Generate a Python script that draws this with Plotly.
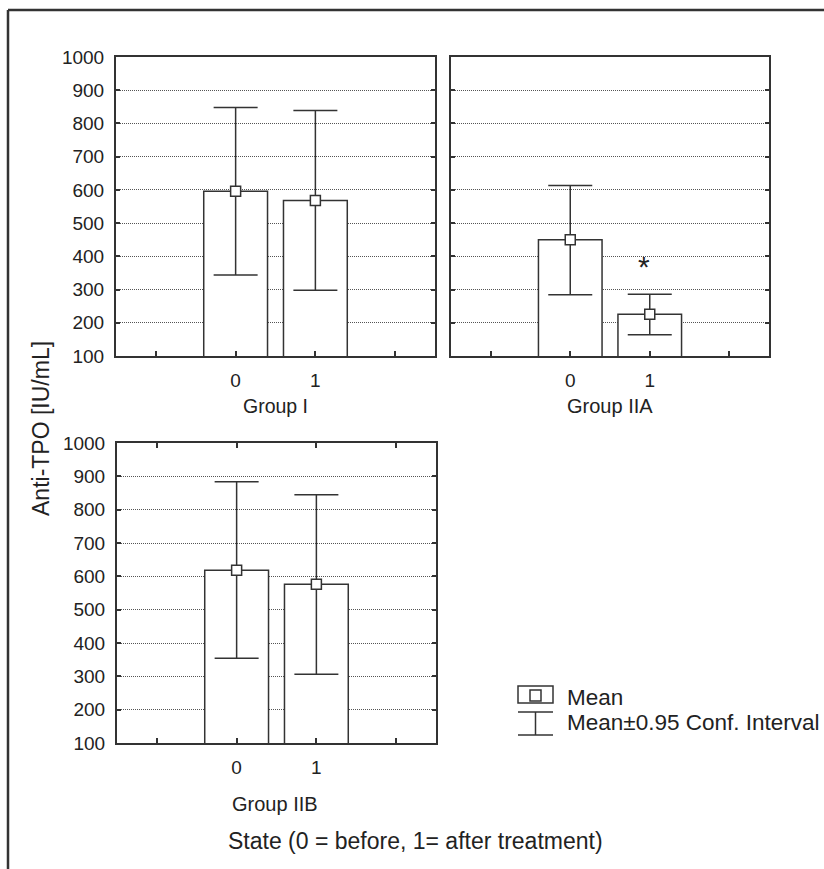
import plotly.graph_objects as go

# ---- data ----
states = [0, 1]
state_labels = ["0", "1"]
group_names = ["Group I", "Group IIA", "Group IIB"]
mean_group_i = [596, 568]
ci_low_group_i = [344, 298]
ci_high_group_i = [848, 839]
mean_group_iia = [450, 226]
ci_low_group_iia = [284, 164]
ci_high_group_iia = [613, 286]
mean_group_iib = [618, 576]
ci_low_group_iib = [354, 306]
ci_high_group_iib = [884, 845]
y_ticks = [100, 200, 300, 400, 500, 600, 700, 800, 900, 1000]

W, H = 824, 869
FONT = "Liberation Sans, Arial, sans-serif"
DARK = "#333333"
TXT = "#222222"

def px_x(p):
    return p / W

def px_y(p):
    return 1 - p / H

fig = go.Figure()

groups = [
    (mean_group_i, ci_low_group_i, ci_high_group_i, "x", "y"),
    (mean_group_iia, ci_low_group_iia, ci_high_group_iia, "x2", "y2"),
    (mean_group_iib, ci_low_group_iib, ci_high_group_iib, "x3", "y3"),
]

for means, lo, hi, xa, ya in groups:
    fig.add_trace(go.Bar(
        x=states, y=means, width=0.8, xaxis=xa, yaxis=ya,
        marker=dict(color="white", line=dict(color=DARK, width=1.5)),
        showlegend=False, hoverinfo="skip",
    ))
    fig.add_trace(go.Scatter(
        x=states, y=means, xaxis=xa, yaxis=ya, mode="markers",
        marker=dict(symbol="square", size=10, color="white",
                    line=dict(color=DARK, width=1.5)),
        error_y=dict(type="data", symmetric=False,
                     array=[h - m for h, m in zip(hi, means)],
                     arrayminus=[m - l for m, l in zip(means, lo)],
                     color=DARK, thickness=1.5, width=22),
        showlegend=False,
    ))

domains = {
    "1": ([px_x(116), px_x(435)], [px_y(356), px_y(57)]),
    "2": ([px_x(451), px_x(769)], [px_y(356), px_y(57)]),
    "3": ([px_x(117), px_x(436)], [px_y(743), px_y(443)]),
}

for key, (dx, dy) in domains.items():
    xname = "xaxis" if key == "1" else "xaxis" + key
    yname = "yaxis" if key == "1" else "yaxis" + key
    anchor_x = "y" if key == "1" else "y" + key
    anchor_y = "x" if key == "1" else "x" + key
    fig.layout[xname] = dict(
        domain=dx, anchor=anchor_x, range=[-1.5, 2.5], automargin=False,
        tickvals=[-1, 0, 1, 2], ticktext=[""] + state_labels + [""],
        ticks="inside", ticklen=5, tickwidth=1.5, tickcolor=DARK,
        showline=True, linecolor=DARK, linewidth=2,
        mirror="ticks" if key == "3" else True,
        showgrid=False, zeroline=False, fixedrange=True,
        tickfont=dict(family=FONT, size=19, color=TXT),
        ticklabelstandoff=6,
    )
    fig.layout[yname] = dict(
        domain=dy, anchor=anchor_y, range=[100, 1000], automargin=False,
        tickvals=y_ticks,
        ticks="inside", ticklen=4, tickwidth=1.5, tickcolor=DARK,
        showline=True, linecolor=DARK, linewidth=2, mirror="ticks",
        showgrid=True, gridcolor="#555555", gridwidth=1, griddash="1px,1px",
        zeroline=False, fixedrange=True,
        showticklabels=(key != "2"),
        tickfont=dict(family=FONT, size=19, color=TXT),
        ticklabelstandoff=6,
    )

def note(text, x, y, size, **kw):
    d = dict(text=text, x=x, y=y, xref="paper", yref="paper", showarrow=False,
             xanchor="center", yanchor="middle",
             font=dict(family=FONT, size=size, color=TXT))
    d.update(kw)
    return d

annotations = [
    note(group_names[0], px_x(275), px_y(406), 19.5),
    note(group_names[1], px_x(610), px_y(406), 20),
    note(group_names[2], px_x(275), px_y(804), 20),
    note("State (0 = before, 1= after treatment)", px_x(415), px_y(841), 23),
    note("Anti-TPO [IU/mL]", px_x(41), px_y(429), 23, textangle=-90),
    dict(text="*", x=states[1], y=ci_high_group_iia[1], xref="x2", yref="y2",
         showarrow=False, xanchor="center", yanchor="middle",
         xshift=-6, yshift=28, font=dict(family=FONT, size=30, color=TXT)),
    note("Mean", px_x(565), px_y(697), 22.5, xanchor="left"),
    note("Mean±0.95 Conf. Interval", px_x(565), px_y(722), 22.5, xanchor="left"),
]

shapes = [
    # outer frame
    dict(type="line", xref="paper", yref="paper", x0=px_x(8), x1=px_x(8),
         y0=px_y(869), y1=px_y(10), line=dict(color=DARK, width=2.5)),
    dict(type="line", xref="paper", yref="paper", x0=px_x(8), x1=px_x(824),
         y0=px_y(10), y1=px_y(10), line=dict(color=DARK, width=2.5)),
    # legend icons
    dict(type="rect", xref="paper", yref="paper", x0=px_x(518), x1=px_x(553),
         y0=px_y(703), y1=px_y(686), line=dict(color=DARK, width=1.5)),
    dict(type="rect", xref="paper", yref="paper", x0=px_x(530), x1=px_x(541),
         y0=px_y(701), y1=px_y(690), line=dict(color=DARK, width=1.5)),
    dict(type="line", xref="paper", yref="paper", x0=px_x(518), x1=px_x(553),
         y0=px_y(712), y1=px_y(712), line=dict(color=DARK, width=1.5)),
    dict(type="line", xref="paper", yref="paper", x0=px_x(535.5), x1=px_x(535.5),
         y0=px_y(712), y1=px_y(735), line=dict(color=DARK, width=1.5)),
    dict(type="line", xref="paper", yref="paper", x0=px_x(518), x1=px_x(553),
         y0=px_y(735), y1=px_y(735), line=dict(color=DARK, width=1.5)),
]

fig.update_layout(
    width=W, height=H,
    margin=dict(l=0, r=0, t=0, b=0, autoexpand=False),
    paper_bgcolor="white", plot_bgcolor="white",
    annotations=annotations, shapes=shapes, showlegend=False,
)

fig.write_html(
    "out.html",
    config={"displayModeBar": False},
    post_script="document.body.style.margin='0';document.body.style.overflow='hidden';",
)
